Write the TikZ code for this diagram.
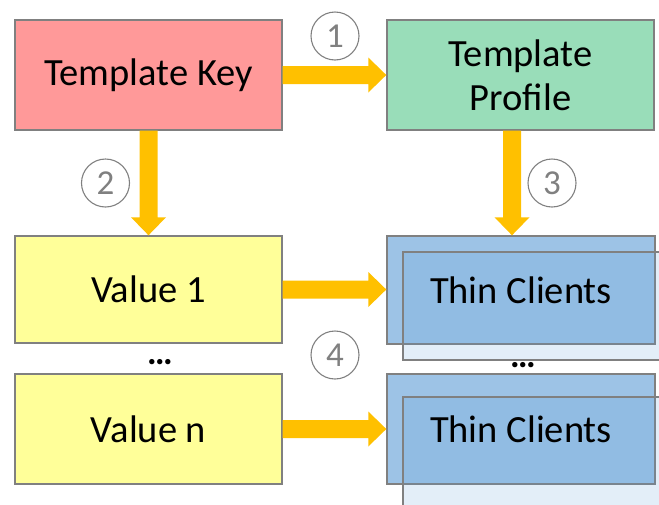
\documentclass[tikz,border=0pt]{standalone}
\usepackage{fontspec}
\setmainfont{Carlito}
\usetikzlibrary{calc}

\definecolor{keyred}{RGB}{255,153,153}
\definecolor{profgreen}{RGB}{153,221,185}
\definecolor{valyellow}{RGB}{255,255,153}
\definecolor{tcblue}{RGB}{157,195,230}
\definecolor{tcshade}{RGB}{91,155,213}
\definecolor{edgegray}{RGB}{128,128,128}
\definecolor{flowamber}{RGB}{255,192,0}

\tikzset{
  box/.style={draw=edgegray, line width=1.4pt, minimum width=267pt,
    minimum height=110pt, inner sep=0pt, align=center,
    font=\fontsize{38.5}{46}\selectfont},
  keybox/.style={box, fill=keyred},
  profbox/.style={box, fill=profgreen},
  valbox/.style={box, fill=valyellow},
  tcback/.style={box, fill=tcblue, minimum width=268pt, minimum height=108pt},
  tcfront/.style={draw=edgegray, line width=1.4pt, fill=tcshade,
    fill opacity=0.17, minimum width=268pt, minimum height=108pt, inner sep=0pt},
  tclabel/.style={font=\fontsize{38.5}{46}\selectfont, inner sep=0pt},
  stepnum/.style={circle, draw=edgegray, line width=1.1pt, minimum size=48pt,
    inner sep=0pt, text=edgegray, font=\fontsize{35}{35}\selectfont},
  more/.style={font=\bfseries\fontsize{36}{36}\selectfont, inner sep=0pt,
    anchor=base},
  fat/.style={fill=flowamber, draw=none}
}

% horizontal block arrow from the east side of #1 to the west side of #2
\newcommand\hfat[2]{%
  \fill[fat] let \p1=(#1.east), \p2=(#2.west) in
    (\x1,\y1+9pt) -- (\x2-18pt,\y1+9pt) -- (\x2-18pt,\y1+17.5pt) --
    (\x2,\y1) -- (\x2-18pt,\y1-17.5pt) -- (\x2-18pt,\y1-9pt) --
    (\x1,\y1-9pt) -- cycle;}
% vertical block arrow from point #1 down to point #2
\newcommand\vfat[2]{%
  \fill[fat] let \p1=(#1), \p2=(#2) in
    (\x1-9pt,\y1) -- (\x1-9pt,\y2+18pt) -- (\x1-17.5pt,\y2+18pt) --
    (\x1,\y2) -- (\x1+17.5pt,\y2+18pt) -- (\x1+9pt,\y2+18pt) --
    (\x1+9pt,\y1) -- cycle;}

\begin{document}
\begin{tikzpicture}[x=1pt,y=-1pt]
  \useasboundingbox (0,0) rectangle (659,504);

  % top row
  \node[keybox]  (tk) at (148.5,75) {Template Key};
  \node[profbox] (tp) at (520.5,75) {Template\\[-2pt]Profile};

  % value column
  \node[valbox, minimum height=107pt] (v1) at (148.5,289.5) {Value 1};
  \node[valbox] (vn) at (148.5,429) {Value n};
  \node[more] (vdots) at (160,364.5) {…};

  % thin client stacks
  \node[tcback] (tc1) at (521,290) {};
  \node[tcfront] (tc1f) at (537,306) {};
  \node[tclabel] (tc1t) at (tc1.center) {Thin Clients};

  \node[tcback, minimum height=110pt] (tc2) at (521,429) {};
  \node[tcfront, minimum height=110pt] (tc2f) at (537,452) {};
  \node[tclabel] (tc2t) at (tc2.center) {Thin Clients};
  \node[more] (tdots) at (523,367.5) {…};

  % flow arrows
  \hfat{tk}{tp}
  \hfat{v1}{tc1}
  \hfat{vn}{tc2}
  \vfat{tk.south}{v1.north}
  \coordinate (a3top) at ([xshift=-8.5pt]tp.south);
  \coordinate (a3bot) at (a3top |- tc1.north);
  \vfat{a3top}{a3bot}

  % step numbers
  \node[stepnum] (s1) at (335,36) {1};
  \node[stepnum] (s2) at (105.5,183) {2};
  \node[stepnum] (s3) at (552,183) {3};
  \node[stepnum] (s4) at (335,355) {4};
\end{tikzpicture}
\end{document}
